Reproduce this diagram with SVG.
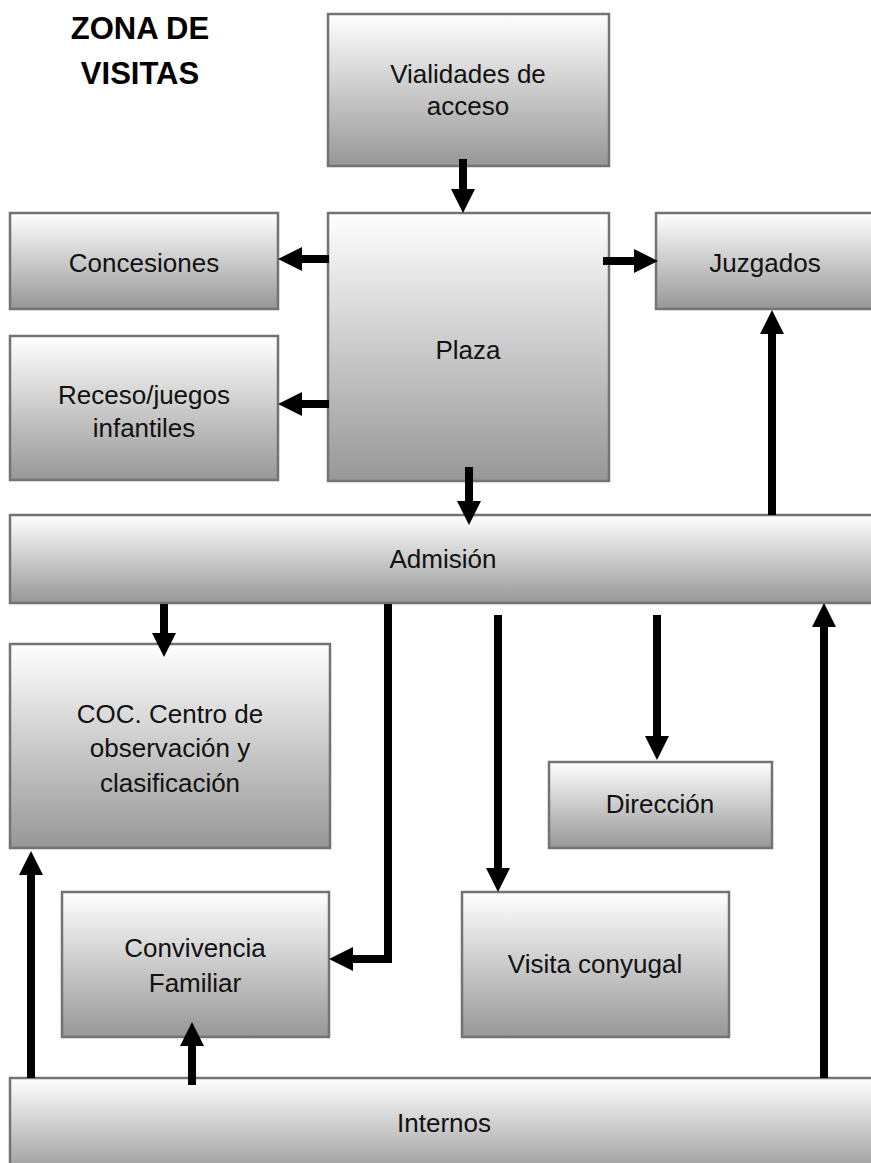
<svg xmlns="http://www.w3.org/2000/svg" width="871" height="1163" viewBox="0 0 871 1163">
<style>
.box{fill:url(#g);stroke:#737373;stroke-width:2.5}
.t{font-family:"Liberation Sans",Arial,sans-serif;font-size:26px;fill:#111;text-anchor:middle}
.title{font-family:"Liberation Sans",Arial,sans-serif;font-size:31px;font-weight:bold;fill:#000;text-anchor:middle}
.c{fill:none;stroke:#000;stroke-width:8;marker-end:url(#ah)}
</style>
<defs>
<linearGradient id="g" x1="0" y1="0" x2="0" y2="1">
<stop offset="0" stop-color="#ffffff"/>
<stop offset="1" stop-color="#979797"/>
</linearGradient>
<marker id="ah" markerUnits="userSpaceOnUse" markerWidth="24" markerHeight="24" refX="12" refY="12" orient="auto">
<path d="M0,0 L24,12 L0,24 z" fill="#000"/>
</marker>
</defs>
<rect width="871" height="1163" fill="#fff"/>
<g id="title">
<text class="title" x="140" y="39">ZONA DE</text>
<text class="title" x="140" y="84">VISITAS</text>
</g>
<g id="vialidades"><rect class="box" x="328" y="14" width="281" height="152"/><text class="t" x="468" y="83">Vialidades de</text><text class="t" x="468" y="115">acceso</text></g>
<g id="plaza"><rect class="box" x="328" y="213" width="281" height="268"/><text class="t" x="468" y="359">Plaza</text></g>
<g id="concesiones"><rect class="box" x="10" y="213" width="268" height="96"/><text class="t" x="144" y="272">Concesiones</text></g>
<g id="receso"><rect class="box" x="10" y="336" width="268" height="144"/><text class="t" x="144" y="404">Receso/juegos</text><text class="t" x="144" y="437">infantiles</text></g>
<g id="juzgados"><rect class="box" x="656" y="213" width="230" height="96"/><text class="t" x="765" y="272">Juzgados</text></g>
<g id="admision"><rect class="box" x="10" y="515" width="876" height="88"/><text class="t" x="443" y="568">Admisión</text></g>
<g id="coc"><rect class="box" x="10" y="644" width="320" height="204"/><text class="t" x="170" y="723">COC. Centro de</text><text class="t" x="170" y="757">observación y</text><text class="t" x="170" y="792">clasificación</text></g>
<g id="direccion"><rect class="box" x="549" y="762" width="223" height="86"/><text class="t" x="660" y="813">Dirección</text></g>
<g id="convivencia"><rect class="box" x="62" y="892" width="267" height="145"/><text class="t" x="195" y="957">Convivencia</text><text class="t" x="195" y="992">Familiar</text></g>
<g id="visita"><rect class="box" x="462" y="892" width="267" height="145"/><text class="t" x="595" y="973">Visita conyugal</text></g>
<g id="internos"><rect class="box" x="10" y="1078" width="876" height="100"/><text class="t" x="444" y="1132">Internos</text></g>
<g id="connectors">
<path class="c" d="M463,159 V201"/>
<path class="c" d="M329,259 H290"/>
<path class="c" d="M329,404 H290"/>
<path class="c" d="M603,261 H646"/>
<path class="c" d="M469,467 V513"/>
<path class="c" d="M772,515 V322"/>
<path class="c" d="M164,604 V645"/>
<path class="c" d="M388,604 V959 H341" stroke-linejoin="miter"/>
<path class="c" d="M498,615 V880"/>
<path class="c" d="M657,615 V748"/>
<path class="c" d="M824,1078 V615"/>
<path class="c" d="M31,1078 V863"/>
<path class="c" d="M192,1085 V1034"/>
</g>
</svg>
